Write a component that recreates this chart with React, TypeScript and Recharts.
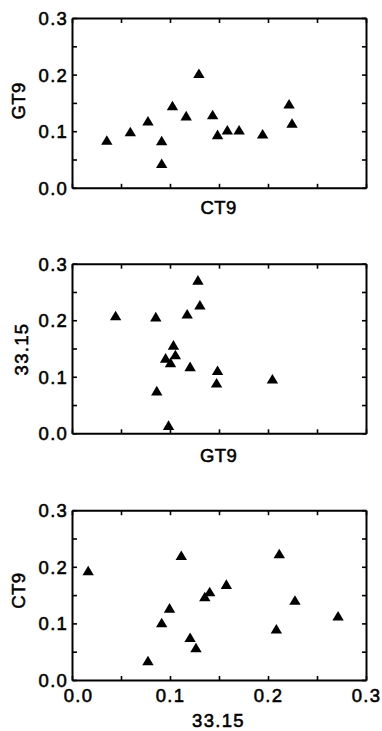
import React from "react";
import { ScatterChart, Scatter, XAxis, YAxis } from "recharts";

// panel 1: CT9 (x) vs GT9 (y)
const ct9A = [0.035, 0.059, 0.077, 0.091, 0.091, 0.102, 0.116, 0.129, 0.143, 0.148, 0.158, 0.17, 0.194, 0.221, 0.224];
const gt9A = [0.085, 0.1, 0.119, 0.084, 0.044, 0.146, 0.128, 0.203, 0.13, 0.095, 0.103, 0.103, 0.096, 0.149, 0.115];

// panel 2: GT9 (x) vs 33.15 (y)
const gt9B = [0.044, 0.085, 0.128, 0.13, 0.117, 0.103, 0.105, 0.095, 0.1, 0.12, 0.148, 0.147, 0.204, 0.086, 0.098];
const s3315B = [0.209, 0.207, 0.272, 0.228, 0.212, 0.157, 0.14, 0.134, 0.126, 0.119, 0.112, 0.09, 0.097, 0.076, 0.015];

// panel 3: 33.15 (x) vs CT9 (y)
const s3315C = [0.016, 0.111, 0.211, 0.157, 0.14, 0.135, 0.227, 0.099, 0.091, 0.271, 0.208, 0.12, 0.126, 0.077];
const ct9C = [0.194, 0.221, 0.224, 0.17, 0.157, 0.148, 0.142, 0.128, 0.102, 0.114, 0.091, 0.076, 0.058, 0.035];

const TICKS = [0, 0.05, 0.1, 0.15, 0.2, 0.25, 0.3];
const TICK_LABELS = ["0.0", "", "0.1", "", "0.2", "", "0.3"];

const FONT = "'Liberation Sans', Arial, sans-serif";
const TEXT = { fill: "#000", stroke: "#000", strokeWidth: 0.55, fontFamily: FONT, fontSize: 18.5 };
const AXIS = { stroke: "#000", strokeWidth: 2 };
const TICK_LEN = 4.5;
const Y_MARGIN = 4.3;
const X_MARGIN = 8.1;

const toPoints = (xs: number[], ys: number[]) => xs.map((x, i) => ({ x, y: ys[i] }));

const Triangle = (props: any) => {
  const { cx, cy } = props;
  return <path d={`M${cx},${cy - 5} L${cx + 5.7},${cy + 4.6} L${cx - 5.7},${cy + 4.6} Z`} fill="#000" />;
};

const tickLine = (x1: number, y1: number, x2: number, y2: number) => (
  <line x1={x1} y1={y1} x2={x2} y2={y2} stroke="#000" strokeWidth={1.6} />
);

// ticks point inward, labels sit outside
const BottomTick = (showLabel: boolean) => (p: any) => {
  const i = TICKS.indexOf(p.payload.value);
  const axisY = p.y - X_MARGIN;
  const shift = i === 0 ? 6 : 0;
  return (
    <g>
      {tickLine(p.x, axisY, p.x, axisY - TICK_LEN)}
      {showLabel && (
        <text x={p.x + shift} y={p.y} dy="0.71em" textAnchor="middle" {...TEXT} letterSpacing={1.3}>
          {TICK_LABELS[i]}
        </text>
      )}
    </g>
  );
};

const LeftTick = (p: any) => {
  const i = TICKS.indexOf(p.payload.value);
  const axisX = p.x + Y_MARGIN;
  return (
    <g>
      {tickLine(axisX, p.y, axisX + TICK_LEN, p.y)}
      <text x={p.x} y={p.y} dy="0.355em" textAnchor="end" {...TEXT} letterSpacing={1.3}>
        {TICK_LABELS[i]}
      </text>
    </g>
  );
};

const TopTick = (p: any) => tickLine(p.x, p.y, p.x, p.y + TICK_LEN);
const RightTick = (p: any) => tickLine(p.x, p.y, p.x - TICK_LEN, p.y);

interface PanelProps {
  top: number;
  height: number;
  plotTop: number;
  plotBottom: number;
  data: { x: number; y: number }[];
  xTitle: string;
  yTitle: string;
  showX: boolean;
  xTitleDy: number;
  yTitleX: number;
  yTitleDy: number;
}

const Panel = ({ top, height, plotTop, plotBottom, data, xTitle, yTitle, showX, xTitleDy, yTitleX, yTitleDy }: PanelProps) => {
  const spacing = /[A-Z]/.test(xTitle) ? 0.4 : 1.3;
  const ySpacing = /[A-Z]/.test(yTitle) ? 0.4 : 1.3;
  return (
    <div style={{ position: "absolute", left: 0, top, width: 382, height }}>
      <ScatterChart width={382} height={height} margin={{ top: plotTop - 1, right: 14.5, bottom: 0, left: 0 }}>
        <XAxis
          xAxisId="b"
          type="number"
          dataKey="x"
          domain={[0, 0.3]}
          allowDataOverflow
          ticks={TICKS}
          orientation="bottom"
          height={plotBottom}
          tickSize={0}
          tickMargin={X_MARGIN}
          axisLine={AXIS}
          tickLine={false}
          tick={BottomTick(showX)}
          label={(p: any) => {
            const vb = p.viewBox;
            return (
              <text x={vb.x + vb.width / 2 - 1} y={vb.y + xTitleDy} textAnchor="middle" {...TEXT} letterSpacing={spacing}>
                {xTitle}
              </text>
            );
          }}
        />
        <XAxis
          xAxisId="t"
          type="number"
          dataKey="x"
          domain={[0, 0.3]}
          allowDataOverflow
          ticks={TICKS}
          orientation="top"
          height={1}
          tickSize={0}
          tickMargin={0}
          axisLine={AXIS}
          tickLine={false}
          tick={TopTick}
        />
        <YAxis
          yAxisId="l"
          type="number"
          dataKey="y"
          domain={[0, 0.3]}
          allowDataOverflow
          ticks={TICKS}
          width={72.5}
          tickSize={0}
          tickMargin={Y_MARGIN}
          axisLine={AXIS}
          tickLine={false}
          tick={LeftTick}
          label={(p: any) => {
            const vb = p.viewBox;
            const cy = vb.y + vb.height / 2 + yTitleDy;
            return (
              <text
                x={yTitleX}
                y={cy}
                dy="0.355em"
                transform={`rotate(-90, ${yTitleX}, ${cy})`}
                textAnchor="middle"
                {...TEXT}
                letterSpacing={ySpacing}
              >
                {yTitle}
              </text>
            );
          }}
        />
        <YAxis
          yAxisId="r"
          type="number"
          dataKey="y"
          domain={[0, 0.3]}
          allowDataOverflow
          ticks={TICKS}
          orientation="right"
          width={1}
          tickSize={0}
          tickMargin={0}
          axisLine={AXIS}
          tickLine={false}
          tick={RightTick}
        />
        <Scatter xAxisId="b" yAxisId="l" data={data} shape={Triangle} isAnimationActive={false} />
        <Scatter xAxisId="t" yAxisId="r" data={data} shape={() => <g />} isAnimationActive={false} />
      </ScatterChart>
    </div>
  );
};

export default function App() {
  return (
    <div style={{ position: "absolute", left: 0, top: 0, width: 382, height: 731, background: "#fff" }}>
      <Panel
        top={0}
        height={240}
        plotTop={18.5}
        plotBottom={51.7}
        data={toPoints(ct9A, gt9A)}
        xTitle="CT9"
        yTitle="GT9"
        showX={false}
        xTitleDy={25.3}
        yTitleX={18.5}
        yTitleDy={-2.5}
      />
      <Panel
        top={240}
        height={240}
        plotTop={24.2}
        plotBottom={46.2}
        data={toPoints(gt9B, s3315B)}
        xTitle="GT9"
        yTitle="33.15"
        showX={false}
        xTitleDy={28.5}
        yTitleX={21.5}
        yTitleDy={0}
      />
      <Panel
        top={480}
        height={251}
        plotTop={30.7}
        plotBottom={50.5}
        data={toPoints(s3315C, ct9C)}
        xTitle="33.15"
        yTitle="CT9"
        showX={true}
        xTitleDy={46.2}
        yTitleX={18.8}
        yTitleDy={-5}
      />
    </div>
  );
}
